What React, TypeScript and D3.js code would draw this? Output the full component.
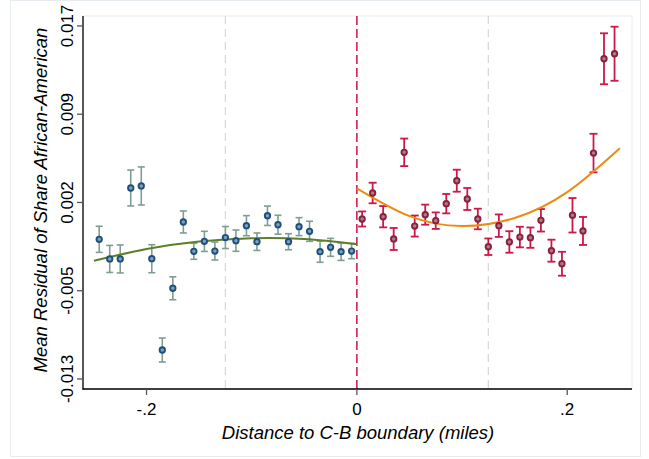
import React from "react";
import * as d3 from "d3";

// Left of boundary (C side)
const leftX = [-0.245, -0.235, -0.225, -0.215, -0.205, -0.195, -0.185, -0.175, -0.165, -0.155, -0.145, -0.135, -0.125,
  -0.115, -0.105, -0.095, -0.085, -0.075, -0.065, -0.055, -0.045, -0.035, -0.025, -0.015, -0.005];
const leftY = [-0.00103, -0.00267, -0.00267, 0.00326, 0.00343, -0.00265, -0.01028, -0.00512, 0.00042, -0.00203, -0.0012, -0.00201, -0.00088,
  -0.00114, 0.00011, -0.00123, 0.00094, 0.00019, -0.00123, 0.00003, -0.00036, -0.00206, -0.0017, -0.00206, -0.00201];
const leftErr = [0.00109, 0.00113, 0.00117, 0.0015, 0.00159, 0.00117, 0.001, 0.00096, 0.00092, 0.00067, 0.00084, 0.00075, 0.00092,
  0.00089, 0.00084, 0.00073, 0.00081, 0.00079, 0.00067, 0.00075, 0.00084, 0.00089, 0.00075, 0.00073, 0.00064];

// Right of boundary (B side)
const rightX = [0.005, 0.015, 0.025, 0.035, 0.045, 0.055, 0.065, 0.075, 0.085, 0.095, 0.105, 0.115, 0.125,
  0.135, 0.145, 0.155, 0.165, 0.175, 0.185, 0.195, 0.205, 0.215, 0.225, 0.235, 0.245];
const rightY = [0.00067, 0.00284, 0.00086, -0.001, 0.00624, 0.00008, 0.00103, 0.00053, 0.00195, 0.00387, 0.00234, 0.00067, -0.00165,
  0.00011, -0.00125, -0.00084, -0.00089, 0.00056, -0.00198, -0.00307, 0.00098, -0.00033, 0.00618, 0.01406, 0.01448];
const rightErr = [0.00063, 0.00086, 0.00089, 0.00092, 0.00115, 0.00088, 0.00084, 0.00069, 0.00081, 0.00092, 0.00092, 0.00086, 0.00069,
  0.00094, 0.0009, 0.00086, 0.00085, 0.00094, 0.00092, 0.001, 0.00144, 0.00117, 0.00161, 0.00213, 0.00226];

// Fitted curves
const fitLeftX = [-0.25, -0.2, -0.15, -0.1, -0.05, 0];
const fitLeftY = [-0.00282, -0.00184, -0.00121, -0.00094, -0.00101, -0.00144];
const fitRightX = [0, 0.05, 0.1, 0.15, 0.2, 0.25];
const fitRightY = [0.00323, 0.00091, 0.00008, 0.00075, 0.00292, 0.00659];

const yTickValues = [-0.0127, -0.005325, 0.00205, 0.009425, 0.0168];
const yTickLabels = ["-0.013", "-0.005", "0.002", "0.009", "0.017"];
const xTickValues = [-0.2, 0, 0.2];
const xTickLabels = ["-.2", "0", ".2"];
const refLines = [-0.125, 0.125];

const W = 649, H = 459;
const FONT = "'Liberation Sans', Arial, sans-serif";

export default function App() {
  const x = d3.scaleLinear().domain([-0.2604, 0.2616]).range([83, 632]);
  const y = d3.scaleLinear().domain([-0.013538, 0.017633]).range([389, 16]);
  const line = d3.line<[number, number]>().x(d => x(d[0])).y(d => y(d[1])).curve(d3.curveNatural);
  const fl = fitLeftX.map((v, i) => [v, fitLeftY[i]] as [number, number]);
  const fr = fitRightX.map((v, i) => [v, fitRightY[i]] as [number, number]);

  const bars = (xs: number[], ys: number[], es: number[], color: string, sw: number, cap: number) =>
    xs.map((xv, i) => {
      const cx = x(xv), y1 = y(ys[i] + es[i]), y2 = y(ys[i] - es[i]);
      return (
        <g key={i} stroke={color} strokeWidth={sw}>
          <line x1={cx} x2={cx} y1={y1} y2={y2} />
          <line x1={cx - cap} x2={cx + cap} y1={y1} y2={y1} />
          <line x1={cx - cap} x2={cx + cap} y1={y2} y2={y2} />
        </g>
      );
    });

  const markers = (xs: number[], ys: number[], stroke: string, fill: string) =>
    xs.map((xv, i) => (
      <circle key={i} cx={x(xv)} cy={y(ys[i])} r={2.7} fill={fill} stroke={stroke} strokeWidth={1.9} />
    ));

  return (
    <svg width={W} height={H} style={{ position: "absolute", left: 0, top: 0, background: "#fff" }} fontFamily={FONT}>
      <rect x={10.5} y={0.5} width={630} height={456} fill="none" stroke="#e6ecef" strokeWidth={1} />
      <rect x={83} y={16} width={549} height={373} fill="none" stroke="#e8eef0" strokeWidth={1} />
      {refLines.map((r, i) => (
        <line key={i} x1={x(r)} x2={x(r)} y1={16} y2={389} stroke="#d9d9d9" strokeWidth={1.3} strokeDasharray="8,5" />
      ))}
      <line x1={x(0)} x2={x(0)} y1={16} y2={389} stroke="#d4204f" strokeWidth={1.6} strokeDasharray="9,4" />
      {bars(leftX, leftY, leftErr, "#7e9e92", 1.6, 3.5)}
      {bars(rightX, rightY, rightErr, "#cc1849", 1.8, 4)}
      <path d={line(fl) || ""} fill="none" stroke="#5c7f28" strokeWidth={2} />
      <path d={line(fr) || ""} fill="none" stroke="#ec8b10" strokeWidth={2} />
      {markers(leftX, leftY, "#1f4f7c", "#7fa2bd")}
      {markers(rightX, rightY, "#8a1f3e", "#a9808a")}
      {/* axes */}
      <line x1={83} x2={83} y1={16} y2={389.5} stroke="#000" strokeWidth={1.3} />
      <line x1={82.5} x2={632} y1={389} y2={389} stroke="#000" strokeWidth={1.3} />
      {yTickValues.map((v, i) => (
        <g key={i}>
          <line x1={77} x2={83} y1={y(v)} y2={y(v)} stroke="#555" strokeWidth={1.3} />
          <text transform={`translate(72.5,${y(v)}) rotate(-90)`} textAnchor="middle" fontSize={17} fill="#000">{yTickLabels[i]}</text>
        </g>
      ))}
      {xTickValues.map((v, i) => (
        <g key={i}>
          <line x1={x(v)} x2={x(v)} y1={389} y2={395} stroke="#555" strokeWidth={1.3} />
          <text x={x(v)} y={415} textAnchor="middle" fontSize={17} fill="#000">{xTickLabels[i]}</text>
        </g>
      ))}
      <text x={358} y={439} textAnchor="middle" fontSize={18.5} fontStyle="italic" fill="#000">Distance to C-B boundary (miles)</text>
      <text transform="translate(47,200) rotate(-90)" textAnchor="middle" fontSize={18.5} fontStyle="italic" fill="#000">Mean Residual of Share African-American</text>
    </svg>
  );
}
